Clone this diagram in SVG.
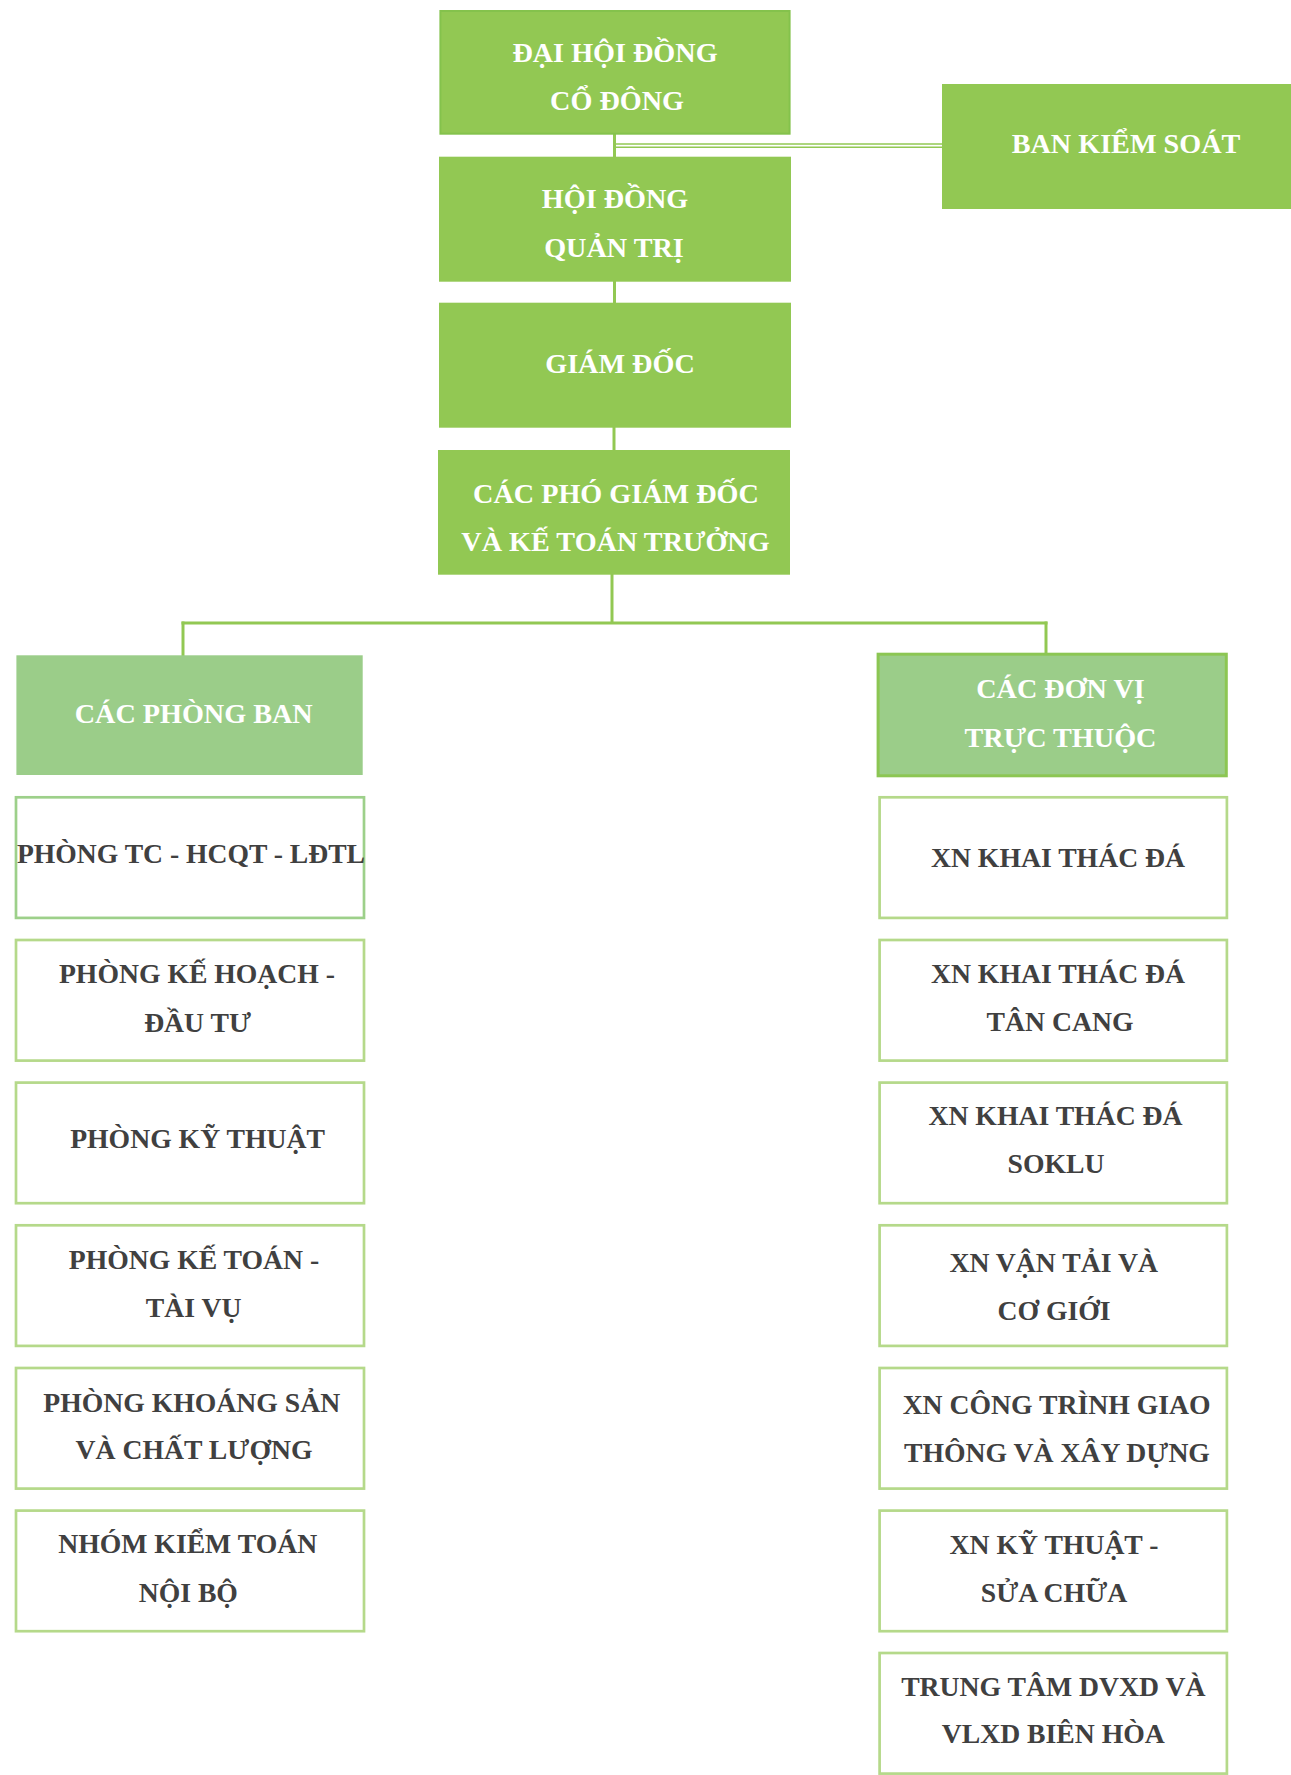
<svg xmlns="http://www.w3.org/2000/svg" width="1291" height="1775" viewBox="0 0 1291 1775">
<style>
.hd{fill:#92c853}
.sub{fill:#9bcd89}
.wt{font-family:"Liberation Serif","Times New Roman",serif;font-weight:bold;font-size:28.2px;fill:#ffffff;text-anchor:middle}
.dk{font-family:"Liberation Serif","Times New Roman",serif;font-weight:bold;font-size:27.7px;fill:#404040;text-anchor:middle}
.bx{fill:#ffffff;stroke:#b5d98a;stroke-width:2.7}
.bx1{fill:#ffffff;stroke:#9dd08a;stroke-width:2.7}
.cn{stroke:#92c853;stroke-width:3;fill:none}
.cn2{stroke:#92c853;stroke-width:1.6;fill:none}
</style>
<rect width="1291" height="1775" fill="#ffffff"/>
<g id="connectors">
<line class="cn" x1="614.5" y1="133" x2="614.5" y2="158"/>
<line class="cn2" x1="616" y1="144" x2="943" y2="144"/>
<line class="cn2" x1="616" y1="147.2" x2="943" y2="147.2"/>
<line class="cn" x1="614.5" y1="281" x2="614.5" y2="303.5"/>
<line class="cn" x1="614" y1="427" x2="614" y2="451"/>
<line class="cn" x1="612" y1="574" x2="612" y2="623"/>
<line class="cn" x1="181.5" y1="623" x2="1047.5" y2="623"/>
<line class="cn" x1="183" y1="621.5" x2="183" y2="656"/>
<line class="cn" x1="1046" y1="621.5" x2="1046" y2="654"/>
</g>
<g id="dai-hoi-dong-co-dong">
<rect class="hd" x="440.4" y="11" width="349.2" height="122.7" stroke="#84c24c" stroke-width="2"/>
<text class="wt" x="615" y="61.7">ĐẠI HỘI ĐỒNG</text>
<text class="wt" x="617" y="110">CỔ ĐÔNG</text>
</g>
<g id="ban-kiem-soat">
<rect class="hd" x="942" y="84" width="349" height="125"/>
<text class="wt" x="1126" y="153.3">BAN KIỂM SOÁT</text>
</g>
<g id="hoi-dong-quan-tri">
<rect class="hd" x="439" y="156.7" width="352" height="125"/>
<text class="wt" x="615" y="208.3">HỘI ĐỒNG</text>
<text class="wt" x="614" y="256.7">QUẢN TRỊ</text>
</g>
<g id="giam-doc">
<rect class="hd" x="439" y="302.7" width="352" height="125"/>
<text class="wt" x="620" y="372.7">GIÁM ĐỐC</text>
</g>
<g id="cac-pho-giam-doc">
<rect class="hd" x="438" y="450" width="352" height="124.7"/>
<text class="wt" x="616" y="503.3">CÁC PHÓ GIÁM ĐỐC</text>
<text class="wt" x="615.5" y="550.7">VÀ KẾ TOÁN TRƯỞNG</text>
</g>
<g id="cac-phong-ban">
<rect class="sub" x="16.4" y="655.3" width="346.3" height="119.7"/>
<text class="wt" x="193.7" y="722.7">CÁC PHÒNG BAN</text>
</g>
<g id="cac-don-vi-truc-thuoc">
<rect class="sub" x="878.1" y="654.2" width="348.2" height="121.6" stroke="#8cc653" stroke-width="3"/>
<text class="wt" x="1060.5" y="698.3">CÁC ĐƠN VỊ</text>
<text class="wt" x="1060.5" y="746.7">TRỰC THUỘC</text>
</g>
<g id="phong-tc-hcqt-ldtl">
<rect class="bx1" x="16" y="797.3" width="348" height="120.6"/>
<text class="dk" x="191" y="863.3" textLength="348" lengthAdjust="spacingAndGlyphs">PHÒNG TC - HCQT - LĐTL</text>
</g>
<g id="phong-ke-hoach-dau-tu">
<rect class="bx" x="16" y="940" width="348" height="120.6"/>
<text class="dk" x="197" y="983.3">PHÒNG KẾ HOẠCH -</text>
<text class="dk" x="197.6" y="1031.7">ĐẦU TƯ</text>
</g>
<g id="phong-ky-thuat">
<rect class="bx" x="16" y="1082.6" width="348" height="120.6"/>
<text class="dk" x="197.6" y="1148.3">PHÒNG KỸ THUẬT</text>
</g>
<g id="phong-ke-toan-tai-vu">
<rect class="bx" x="16" y="1225.3" width="348" height="120.6"/>
<text class="dk" x="194" y="1268.6">PHÒNG KẾ TOÁN -</text>
<text class="dk" x="193.7" y="1317">TÀI VỤ</text>
</g>
<g id="phong-khoang-san-va-chat-luong">
<rect class="bx" x="16" y="1368" width="348" height="120.6"/>
<text class="dk" x="191.7" y="1411.7">PHÒNG KHOÁNG SẢN</text>
<text class="dk" x="194" y="1459.3">VÀ CHẤT LƯỢNG</text>
</g>
<g id="nhom-kiem-toan-noi-bo">
<rect class="bx" x="16" y="1510.6" width="348" height="120.6"/>
<text class="dk" x="187.7" y="1553.3">NHÓM KIỂM TOÁN</text>
<text class="dk" x="188.3" y="1601.7">NỘI BỘ</text>
</g>
<g id="xn-khai-thac-da">
<rect class="bx" x="879.6" y="797.3" width="347.3" height="120.6"/>
<text class="dk" x="1058" y="867.3">XN KHAI THÁC ĐÁ</text>
</g>
<g id="xn-khai-thac-da-tan-cang">
<rect class="bx" x="879.6" y="940" width="347.3" height="120.6"/>
<text class="dk" x="1058" y="983.3">XN KHAI THÁC ĐÁ</text>
<text class="dk" x="1060" y="1030.7">TÂN CANG</text>
</g>
<g id="xn-khai-thac-da-soklu">
<rect class="bx" x="879.6" y="1082.6" width="347.3" height="120.6"/>
<text class="dk" x="1055.5" y="1125">XN KHAI THÁC ĐÁ</text>
<text class="dk" x="1056" y="1173.3">SOKLU</text>
</g>
<g id="xn-van-tai-va-co-gioi">
<rect class="bx" x="879.6" y="1225.3" width="347.3" height="120.6"/>
<text class="dk" x="1053.7" y="1271.7">XN VẬN TẢI VÀ</text>
<text class="dk" x="1054" y="1320">CƠ GIỚI</text>
</g>
<g id="xn-cong-trinh-giao-thong-va-xay-dung">
<rect class="bx" x="879.6" y="1368" width="347.3" height="120.6"/>
<text class="dk" x="1056.6" y="1413.5">XN CÔNG TRÌNH GIAO</text>
<text class="dk" x="1057" y="1461.5">THÔNG VÀ XÂY DỰNG</text>
</g>
<g id="xn-ky-thuat-sua-chua">
<rect class="bx" x="879.6" y="1510.6" width="347.3" height="120.6"/>
<text class="dk" x="1054" y="1554.3">XN KỸ THUẬT -</text>
<text class="dk" x="1054" y="1601.7">SỬA CHỮA</text>
</g>
<g id="trung-tam-dvxd-va-vlxd-bien-hoa">
<rect class="bx" x="879.6" y="1653" width="347.3" height="120.6"/>
<text class="dk" x="1053.3" y="1696">TRUNG TÂM DVXD VÀ</text>
<text class="dk" x="1053.3" y="1743.3">VLXD BIÊN HÒA</text>
</g>
</svg>
